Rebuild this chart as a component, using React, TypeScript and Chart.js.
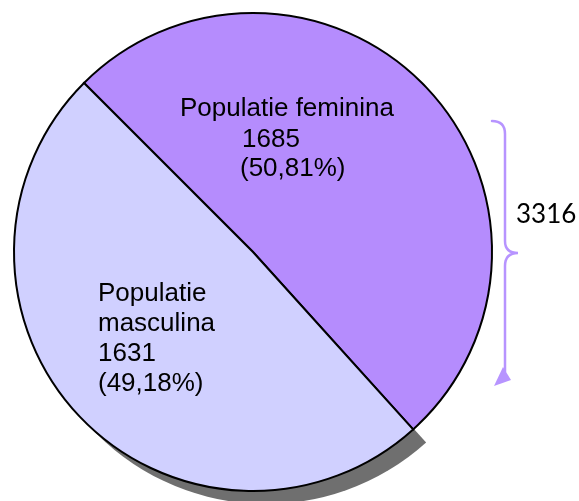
import React, { useEffect, useRef } from "react";
import { Chart, registerables } from "chart.js";

Chart.register(...registerables);

const categories = ["Populatie feminina", "Populatie masculina"];
const values = [1685, 1631];
const percentLabels = ["50,81%", "49,18%"];
const totalLabel = String(values[0] + values[1]);

const sliceColors = ["#b58cfd", "#d0d0ff"];
const braceColor = "#b794ff";
const shadowColor = "#6f6f6f";
const labelFont = "26px 'Liberation Sans', Arial, sans-serif";

const shadowPlugin = {
  id: "sliceShadow",
  beforeDatasetsDraw(chart: any) {
    const arc = chart.getDatasetMeta(0).data[1];
    if (!arc) return;
    const { x, y, startAngle, endAngle, outerRadius } = arc.getProps(
      ["x", "y", "startAngle", "endAngle", "outerRadius"],
      true
    );
    const d = 13;
    const ctx = chart.ctx;
    ctx.save();
    ctx.fillStyle = shadowColor;
    ctx.beginPath();
    ctx.moveTo(x + d, y + d);
    ctx.arc(x + d, y + d, outerRadius, startAngle, endAngle);
    ctx.closePath();
    ctx.fill();
    ctx.restore();
  },
};

const labelPlugin = {
  id: "sliceLabels",
  afterDatasetsDraw(chart: any) {
    const arc = chart.getDatasetMeta(0).data[0];
    if (!arc) return;
    const { x: cx, y: cy } = arc.getProps(["x", "y"], true);
    const ctx = chart.ctx;
    ctx.save();
    ctx.fillStyle = "#000";
    ctx.font = labelFont;
    ctx.textAlign = "left";
    ctx.textBaseline = "alphabetic";
    // female slice label
    const fLines = [categories[0], String(values[0]), `(${percentLabels[0]})`];
    const fPos = [
      [-73, -136],
      [-11, -105],
      [-13, -76],
    ];
    fLines.forEach((t, i) => ctx.fillText(t, cx + fPos[i][0], cy + fPos[i][1]));
    // male slice label
    const mLines = [...categories[1].split(" "), String(values[1]), `(${percentLabels[1]})`];
    mLines.forEach((t, i) => ctx.fillText(t, cx - 155, cy + 49 + i * 30));

    // brace with total
    ctx.strokeStyle = braceColor;
    ctx.fillStyle = braceColor;
    ctx.lineWidth = 2.5;
    ctx.lineCap = "round";
    ctx.beginPath();
    ctx.moveTo(492, 121);
    ctx.quadraticCurveTo(505, 121, 505, 134);
    ctx.lineTo(505, 241);
    ctx.quadraticCurveTo(505, 253, 518, 253);
    ctx.quadraticCurveTo(505, 253, 505, 266);
    ctx.lineTo(505, 372);
    ctx.stroke();
    ctx.beginPath();
    ctx.moveTo(503, 367);
    ctx.lineTo(511, 380);
    ctx.lineTo(494, 386);
    ctx.closePath();
    ctx.fill();

    ctx.fillStyle = "#000";
    ctx.font = "26px Lato, 'Open Sans', sans-serif";
    ctx.fillText(totalLabel, 516, 223);
    ctx.restore();
  },
};

export default function App() {
  const ref = useRef<HTMLCanvasElement>(null);
  useEffect(() => {
    if (!ref.current) return;
    const chart = new Chart(ref.current, {
      type: "pie",
      data: {
        labels: categories,
        datasets: [
          {
            data: values,
            backgroundColor: sliceColors,
            borderColor: "#000",
            borderWidth: 2,
            borderJoinStyle: "miter",
          },
        ],
      },
      options: {
        responsive: false,
        animation: false,
        devicePixelRatio: 1,
        rotation: -45,
        layout: { padding: { left: 13, right: 86, top: 12, bottom: 9 } },
        plugins: {
          legend: { display: false },
          tooltip: { enabled: false },
        },
      },
      plugins: [shadowPlugin, labelPlugin],
    } as any);
    return () => chart.destroy();
  }, []);
  return (
    <canvas
      ref={ref}
      width={579}
      height={501}
      style={{ position: "absolute", left: 0, top: 0, display: "block" }}
    />
  );
}
